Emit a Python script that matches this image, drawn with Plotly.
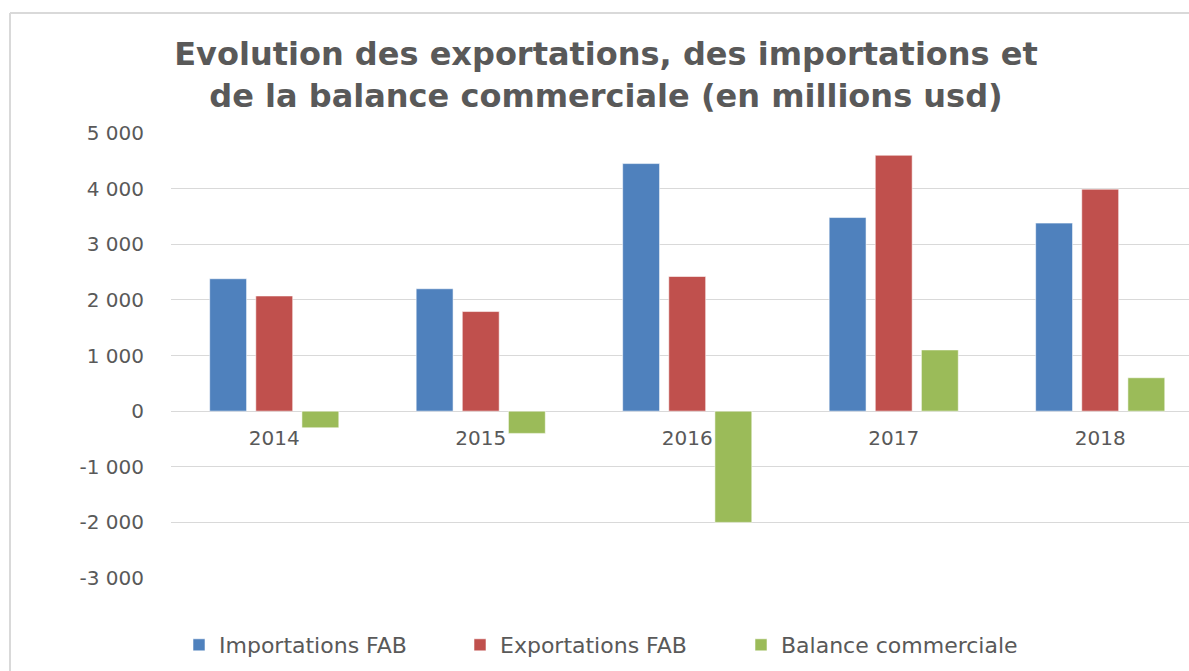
import plotly.graph_objects as go

years = ["2014", "2015", "2016", "2017", "2018"]
importations = [2380, 2200, 4450, 3480, 3380]
exportations = [2070, 1790, 2420, 4600, 3990]
balance = [-300, -400, -2000, 1100, 600]

y_ticks = [-3000, -2000, -1000, 0, 1000, 2000, 3000, 4000, 5000]
y_tick_text = ["-3 000", "-2 000", "-1 000", "0", "1 000", "2 000", "3 000", "4 000", "5 000"]

series = [
    ("Importations FAB", importations, "#4F81BD"),
    ("Exportations FAB", exportations, "#C0504D"),
    ("Balance commerciale", balance, "#9BBB59"),
]

fig = go.Figure()
for name, vals, col in series:
    fig.add_trace(go.Bar(
        x=years, y=vals, name=name,
        marker=dict(color=col, line=dict(color="rgba(255,255,255,0.55)", width=1)),
    ))

W, H = 1189, 671
L, R, T, B = 171, 0, 133, 93
pw = W - L - R
ph = H - T - B

fig.update_layout(
    width=W, height=H,
    margin=dict(l=L, r=R, t=T, b=B, pad=0),
    paper_bgcolor="white", plot_bgcolor="white",
    barmode="group", bargap=0.33, bargroupgap=0.2,
    title=dict(
        text="Evolution des exportations, des importations et<br>de la balance commerciale (en millions usd)",
        x=606 / W, xref="container", xanchor="center",
        y=1 - 65 / H, yref="container", yanchor="middle",
        font=dict(family="DejaVu Sans", size=32, color="#595959", weight="bold"),
    ),
    font=dict(family="DejaVu Sans", color="#595959"),
    xaxis=dict(
        type="category", range=[-0.5, 4.43],
        anchor="free", position=3000 / 8000,
        showline=False, showgrid=False, zeroline=False, ticks="",
        tickfont=dict(family="DejaVu Sans", size=20, color="#595959"),
        ticklabelstandoff=13,
    ),
    yaxis=dict(
        range=[-3000, 5000], tickvals=y_ticks, ticktext=y_tick_text,
        showgrid=True, gridcolor="#D9D9D9", gridwidth=1,
        zeroline=True, zerolinecolor="#D9D9D9", zerolinewidth=1,
        showline=False, ticks="",
        tickfont=dict(family="DejaVu Sans", size=20, color="#595959"),
        ticklabelstandoff=26,
    ),
    legend=dict(
        orientation="h", x=8 / pw, xanchor="left", y=-67 / ph, yanchor="middle",
        font=dict(family="DejaVu Sans", size=22, color="#595959"),
        entrywidth=236, entrywidthmode="pixels", itemclick=False,
        bgcolor="rgba(0,0,0,0)",
    ),
    shapes=[
        dict(type="line", xref="paper", yref="paper",
             x0=(10 - L) / pw, x1=(10 - L) / pw, y0=-0.5, y1=1 + (T - 13) / ph,
             line=dict(color="#D9D9D9", width=2)),
        dict(type="line", xref="paper", yref="paper",
             x0=(10 - L) / pw, x1=1.2, y0=1 + (T - 13) / ph, y1=1 + (T - 13) / ph,
             line=dict(color="#D9D9D9", width=2)),
    ],
)

fig.write_html("out.html", config={"displayModeBar": False},
               post_script="document.body.style.margin='0';document.body.style.overflow='hidden';")
